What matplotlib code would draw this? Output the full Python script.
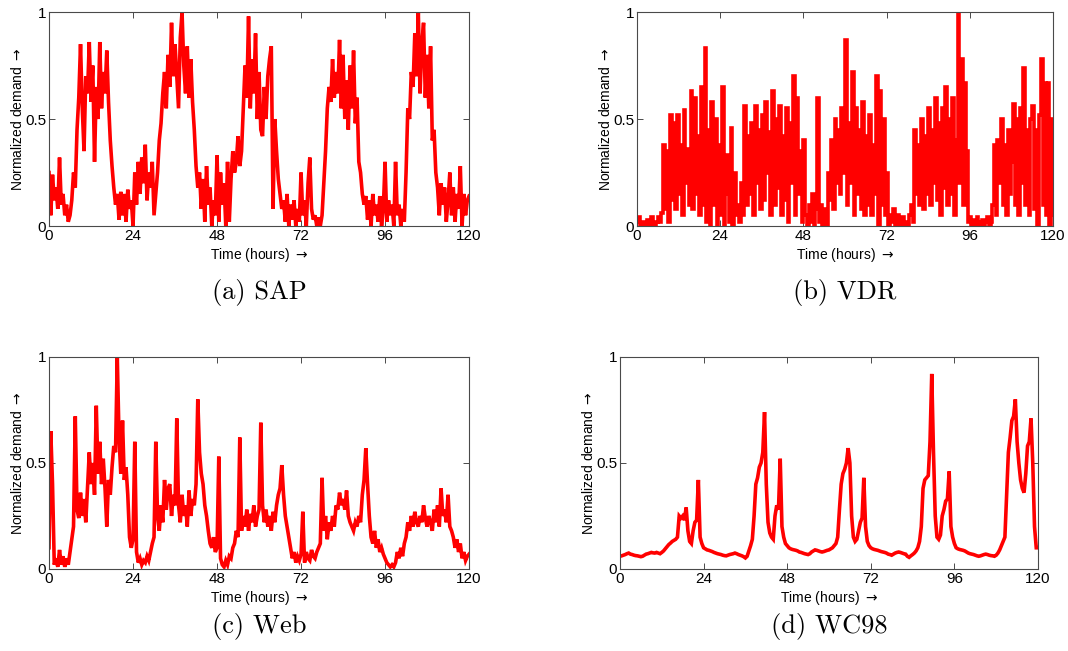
import matplotlib
matplotlib.use("Agg")
import matplotlib.pyplot as plt
import numpy as np

# Normalized demand traces, one sample every half hour over five days.
HOURS = np.arange(0, 120.5, 0.5)

SAP = [
    0.25, 0.05, 0.24, 0.12, 0.18, 0.08, 0.32, 0.10, 0.15, 0.05, 0.10, 0.02,
    0.05, 0.12, 0.25, 0.18, 0.45, 0.60, 0.85, 0.55, 0.35, 0.70, 0.62, 0.86,
    0.58, 0.75, 0.30, 0.65, 0.50, 0.86, 0.55, 0.72, 0.62, 0.82, 0.58, 0.40,
    0.28, 0.18, 0.10, 0.15, 0.03, 0.16, 0.05, 0.15, 0.02, 0.17, 0.08, 0.12,
    0.00, 0.25, 0.10, 0.30, 0.15, 0.32, 0.20, 0.38, 0.12, 0.25, 0.18, 0.30,
    0.05, 0.15, 0.25, 0.40, 0.48, 0.62, 0.72, 0.55, 0.80, 0.65, 0.95, 0.70,
    0.85, 0.70, 0.55, 0.88, 1.00, 0.75, 0.62, 0.84, 0.60, 0.78, 0.58, 0.45,
    0.28, 0.18, 0.25, 0.08, 0.22, 0.02, 0.28, 0.10, 0.18, 0.00, 0.12, 0.05,
    0.33, 0.02, 0.25, 0.10, 0.20, 0.00, 0.30, 0.02, 0.22, 0.35, 0.25, 0.30,
    0.42, 0.28, 0.35, 0.55, 0.75, 0.60, 0.98, 0.55, 0.78, 0.62, 0.90, 0.50,
    0.72, 0.45, 0.42, 0.65, 0.50, 0.70, 0.78, 0.84, 0.08, 0.50, 0.35, 0.22,
    0.15, 0.08, 0.12, 0.02, 0.15, 0.00, 0.10, 0.03, 0.12, 0.00, 0.08, 0.02,
    0.25, 0.05, 0.12, 0.00, 0.20, 0.32, 0.08, 0.03, 0.05, 0.00, 0.04, 0.00,
    0.05, 0.20, 0.35, 0.55, 0.65, 0.58, 0.78, 0.60, 0.72, 0.62, 0.87, 0.55,
    0.80, 0.50, 0.68, 0.45, 0.75, 0.55, 0.82, 0.48, 0.60, 0.30, 0.25, 0.15,
    0.10, 0.14, 0.03, 0.12, 0.00, 0.15, 0.05, 0.10, 0.02, 0.14, 0.00, 0.08,
    0.30, 0.02, 0.12, 0.05, 0.10, 0.00, 0.30, 0.05, 0.10, 0.00, 0.08, 0.02,
    0.25, 0.55, 0.50, 0.72, 0.65, 0.90, 0.70, 1.00, 0.62, 0.85, 0.95, 0.60,
    0.80, 0.55, 0.84, 0.40, 0.45, 0.25, 0.18, 0.05, 0.20, 0.10, 0.18, 0.02,
    0.12, 0.25, 0.05, 0.18, 0.02, 0.15, 0.08, 0.28, 0.00, 0.15, 0.05, 0.12,
    0.14,
]

VDR = [
    0.02, 0.04, 0.00, 0.02, 0.00, 0.01, 0.03, 0.00, 0.04, 0.01, 0.00, 0.02,
    0.04, 0.02, 0.06, 0.38, 0.08, 0.35, 0.02, 0.52, 0.12, 0.48, 0.08, 0.52,
    0.15, 0.38, 0.05, 0.54, 0.20, 0.36, 0.10, 0.63, 0.08, 0.60, 0.15, 0.42,
    0.05, 0.65, 0.10, 0.83, 0.02, 0.45, 0.00, 0.58, 0.10, 0.50, 0.00, 0.38,
    0.05, 0.65, 0.00, 0.15, 0.33, 0.02, 0.46, 0.00, 0.25, 0.05, 0.10, 0.02,
    0.20, 0.05, 0.56, 0.10, 0.42, 0.15, 0.48, 0.05, 0.56, 0.20, 0.45, 0.08,
    0.52, 0.12, 0.58, 0.25, 0.44, 0.05, 0.63, 0.10, 0.50, 0.18, 0.56, 0.05,
    0.42, 0.12, 0.55, 0.02, 0.48, 0.20, 0.70, 0.05, 0.60, 0.15, 0.35, 0.02,
    0.40, 0.05, 0.00, 0.10, 0.02, 0.15, 0.00, 0.08, 0.60, 0.02, 0.10, 0.00,
    0.08, 0.00, 0.25, 0.12, 0.40, 0.08, 0.50, 0.20, 0.45, 0.15, 0.55, 0.25,
    0.87, 0.10, 0.48, 0.20, 0.72, 0.05, 0.55, 0.15, 0.45, 0.08, 0.58, 0.05,
    0.42, 0.10, 0.52, 0.05, 0.38, 0.15, 0.70, 0.00, 0.63, 0.10, 0.50, 0.05,
    0.25, 0.00, 0.05, 0.02, 0.08, 0.00, 0.05, 0.02, 0.00, 0.04, 0.00, 0.02,
    0.00, 0.05, 0.10, 0.02, 0.45, 0.15, 0.38, 0.10, 0.50, 0.08, 0.42, 0.15,
    0.55, 0.10, 0.45, 0.20, 0.60, 0.12, 0.48, 0.05, 0.55, 0.18, 0.65, 0.10,
    0.50, 0.15, 0.60, 0.05, 0.40, 1.00, 0.20, 0.78, 0.10, 0.67, 0.35, 0.02,
    0.04, 0.00, 0.03, 0.00, 0.04, 0.02, 0.00, 0.03, 0.00, 0.02, 0.04, 0.00,
    0.02, 0.10, 0.38, 0.05, 0.40, 0.20, 0.50, 0.10, 0.38, 0.05, 0.45, 0.15,
    0.30, 0.57, 0.10, 0.50, 0.05, 0.55, 0.20, 0.74, 0.10, 0.45, 0.05, 0.50,
    0.56, 0.08, 0.45, 0.00, 0.52, 0.78, 0.10, 0.67, 0.05, 0.67, 0.00, 0.50,
    0.05,
]

WEB = [
    0.10, 0.65, 0.40, 0.02, 0.05, 0.01, 0.09, 0.02, 0.06, 0.01, 0.05, 0.02,
    0.08, 0.14, 0.20, 0.72, 0.28, 0.24, 0.36, 0.25, 0.33, 0.22, 0.38, 0.55,
    0.40, 0.50, 0.35, 0.77, 0.45, 0.60, 0.40, 0.52, 0.38, 0.20, 0.42, 0.35,
    0.48, 0.58, 0.55, 1.00, 0.62, 0.45, 0.70, 0.42, 0.48, 0.35, 0.15, 0.10,
    0.14, 0.60, 0.08, 0.03, 0.05, 0.02, 0.04, 0.03, 0.06, 0.04, 0.08, 0.12,
    0.15, 0.60, 0.25, 0.18, 0.30, 0.22, 0.42, 0.28, 0.38, 0.40, 0.25, 0.35,
    0.30, 0.71, 0.30, 0.22, 0.35, 0.25, 0.30, 0.20, 0.37, 0.25, 0.33, 0.30,
    0.40, 0.80, 0.55, 0.45, 0.40, 0.30, 0.25, 0.18, 0.12, 0.10, 0.15, 0.08,
    0.10, 0.53, 0.05, 0.02, 0.01, 0.04, 0.02, 0.06, 0.05, 0.10, 0.12, 0.18,
    0.15, 0.62, 0.18, 0.25, 0.20, 0.28, 0.18, 0.26, 0.22, 0.30, 0.20, 0.25,
    0.28, 0.69, 0.30, 0.22, 0.28, 0.20, 0.25, 0.18, 0.27, 0.22, 0.30, 0.35,
    0.38, 0.49, 0.35, 0.25, 0.20, 0.15, 0.10, 0.05, 0.08, 0.03, 0.06, 0.04,
    0.07, 0.27, 0.03, 0.08, 0.05, 0.04, 0.09, 0.06, 0.05, 0.08, 0.10, 0.12,
    0.43, 0.18, 0.25, 0.14, 0.22, 0.18, 0.25, 0.20, 0.30, 0.28, 0.36, 0.30,
    0.33, 0.28, 0.37, 0.25, 0.22, 0.20, 0.18, 0.22, 0.20, 0.25, 0.22, 0.35,
    0.42, 0.57, 0.40, 0.25, 0.15, 0.12, 0.18, 0.10, 0.14, 0.08, 0.10, 0.07,
    0.05, 0.03, 0.02, 0.01, 0.02, 0.01, 0.03, 0.08, 0.05, 0.10, 0.06, 0.12,
    0.15, 0.22, 0.18, 0.25, 0.20, 0.27, 0.22, 0.20, 0.25, 0.22, 0.30, 0.24,
    0.20, 0.25, 0.22, 0.18, 0.28, 0.22, 0.30, 0.20, 0.38, 0.25, 0.28, 0.22,
    0.35, 0.20, 0.18, 0.15, 0.10, 0.14, 0.08, 0.12, 0.05, 0.08, 0.04, 0.06,
    0.07,
]

WC98 = [
    0.060, 0.062, 0.065, 0.068, 0.072, 0.075, 0.070, 0.068, 0.065, 0.063, 0.062, 0.060,
    0.058, 0.060, 0.065, 0.070, 0.072, 0.075, 0.078, 0.076, 0.075, 0.078, 0.075, 0.072,
    0.078, 0.085, 0.095, 0.105, 0.115, 0.122, 0.130, 0.135, 0.140, 0.150, 0.250, 0.240,
    0.250, 0.230, 0.290, 0.180, 0.130, 0.120, 0.180, 0.220, 0.230, 0.420, 0.150, 0.120,
    0.100, 0.095, 0.090, 0.088, 0.085, 0.082, 0.078, 0.075, 0.072, 0.070, 0.068, 0.065,
    0.063, 0.062, 0.065, 0.068, 0.070, 0.072, 0.075, 0.072, 0.068, 0.065, 0.062, 0.058,
    0.052, 0.060, 0.085, 0.110, 0.140, 0.250, 0.400, 0.430, 0.480, 0.500, 0.550, 0.740,
    0.400, 0.220, 0.170, 0.150, 0.140, 0.250, 0.300, 0.280, 0.520, 0.200, 0.150, 0.120,
    0.110, 0.100, 0.095, 0.092, 0.090, 0.088, 0.085, 0.080, 0.078, 0.075, 0.072, 0.070,
    0.068, 0.072, 0.080, 0.085, 0.090, 0.088, 0.085, 0.082, 0.080, 0.082, 0.085, 0.088,
    0.090, 0.095, 0.100, 0.110, 0.120, 0.150, 0.280, 0.400, 0.450, 0.470, 0.500, 0.570,
    0.500, 0.250, 0.150, 0.130, 0.140, 0.180, 0.220, 0.240, 0.430, 0.200, 0.130, 0.110,
    0.100, 0.095, 0.092, 0.090, 0.088, 0.085, 0.082, 0.080, 0.078, 0.075, 0.070, 0.068,
    0.065, 0.070, 0.075, 0.078, 0.080, 0.078, 0.075, 0.072, 0.070, 0.060, 0.055, 0.062,
    0.068, 0.075, 0.085, 0.100, 0.130, 0.200, 0.380, 0.420, 0.430, 0.440, 0.600, 0.920,
    0.550, 0.250, 0.150, 0.140, 0.160, 0.250, 0.280, 0.320, 0.330, 0.460, 0.200, 0.150,
    0.120, 0.100, 0.095, 0.092, 0.090, 0.088, 0.085, 0.080, 0.075, 0.072, 0.070, 0.068,
    0.065, 0.062, 0.060, 0.062, 0.065, 0.068, 0.070, 0.068, 0.065, 0.063, 0.062, 0.060,
    0.065, 0.075, 0.090, 0.110, 0.130, 0.150, 0.350, 0.550, 0.620, 0.700, 0.720, 0.800,
    0.600, 0.500, 0.420, 0.380, 0.360, 0.450, 0.580, 0.600, 0.710, 0.500, 0.200, 0.100,
    0.100,
]

CAPTIONS = ["(a) SAP", "(b) VDR", "(c) Web", "(d) WC98"]
X_TICKS = [0, 24, 48, 72, 96, 120]
Y_TICKS = [0, 0.5, 1]
Y_TICK_LABELS = ["0", "0.5", "1"]

_TRACE = "#ff0000"
_AXIS = "#4a4a4a"
_SANS = ["Liberation Sans", "DejaVu Sans"]

plt.rcParams["font.family"] = _SANS
plt.rcParams["mathtext.fontset"] = "dejavusans"


def _style_axes(ax):
    ax.set_xlim(0, 120)
    ax.set_ylim(0, 1)
    ax.set_xticks(X_TICKS)
    ax.set_yticks(Y_TICKS)
    ax.set_yticklabels(Y_TICK_LABELS)
    ax.tick_params(direction="in", length=4, width=0.7, colors=_AXIS,
                   labelcolor="black", labelsize=11, top=True, right=True, pad=2)
    for spine in ax.spines.values():
        spine.set_color(_AXIS)
        spine.set_linewidth(0.8)
    ax.set_xlabel(r"Time (hours) $\rightarrow$", fontsize=10, labelpad=2)
    ax.set_ylabel(r"Normalized demand $\rightarrow$", fontsize=10, labelpad=0)


fig = plt.figure(figsize=(10.68, 6.51), dpi=100)
fig.patch.set_facecolor("white")

# panel rectangles in figure fractions: left, bottom, width, height
rects = [
    (0.0459, 0.6528, 0.3933, 0.3287),
    (0.5964, 0.6528, 0.3895, 0.3287),
    (0.0459, 0.1260, 0.3933, 0.3257),
    (0.5805, 0.1260, 0.3914, 0.3257),
]
series = [SAP, VDR, WEB, WC98]
styles = ["default", "steps-post", "default", "default"]
caption_y = [1 - 293 / 651, 1 - 293 / 651, 1 - 627 / 651, 1 - 627 / 651]

for rect, values, drawstyle, caption, cy in zip(rects, series, styles, CAPTIONS, caption_y):
    ax = fig.add_axes(rect)
    ax.plot(HOURS, values, color=_TRACE, linewidth=2.6, drawstyle=drawstyle,
            solid_joinstyle="miter")
    _style_axes(ax)
    fig.text(rect[0] + rect[2] / 2, cy, caption, ha="center", va="center",
             fontsize=19, family="cmr10")

fig.savefig("out.png", dpi=100)
